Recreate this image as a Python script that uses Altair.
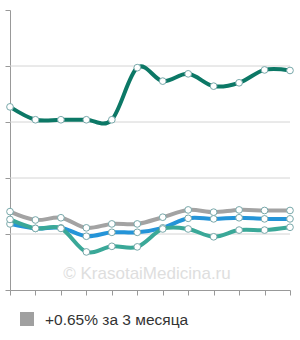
import altair as alt
import pandas as pd

idx = list(range(12))
gray = [1.40, 1.25, 1.29, 1.11, 1.18, 1.18, 1.30, 1.43, 1.39, 1.43, 1.42, 1.42]
blue = [1.18, 1.10, 1.11, 0.96, 1.03, 1.03, 1.11, 1.28, 1.27, 1.29, 1.27, 1.27]
teal = [1.26, 1.10, 1.10, 0.68, 0.78, 0.77, 1.09, 1.09, 0.95, 1.07, 1.07, 1.12]
green = [3.27, 3.04, 3.04, 3.04, 3.04, 3.97, 3.73, 3.86, 3.64, 3.70, 3.93, 3.92]
grid_vals = [1, 2, 3, 4]
y_ticks = [0, 1, 2, 3, 4, 5]
legend_label = "+0.65% за 3 месяца"
watermark = "© KrasotaiMedicina.ru"

series = [("gray", gray, "#a3a3a3"), ("blue", blue, "#2494d8"),
          ("teal", teal, "#3aa898"), ("green", green, "#0c7866")]

xs = alt.Scale(domain=[0, 11], nice=False)
ys = alt.Scale(domain=[0, 5], nice=False)
x_axis = alt.Axis(values=idx, labels=False, title=None, grid=False, tickSize=5,
                  tickColor="#999", domainColor="#999")
y_axis = alt.Axis(values=y_ticks, labels=False, title=None, grid=False, tickSize=5,
                  tickColor="#999", domainColor="#999")


def X(f):
    return alt.X(f, scale=xs, axis=x_axis)


def Y(f):
    return alt.Y(f, scale=ys, axis=y_axis)


base_axes = alt.Chart(pd.DataFrame({"i": idx, "v": gray})).mark_point(opacity=0).encode(
    x=X("i:Q"), y=Y("v:Q"))

grid = alt.Chart(pd.DataFrame({"v": grid_vals})).mark_rule(
    color="#d4d4d4", strokeWidth=1).encode(y=Y("v:Q"))

wm = alt.Chart(pd.DataFrame({"t": [watermark]})).mark_text(
    fontSize=17, color="#dedede", font="Liberation Sans", align="center", baseline="middle").encode(
    text="t:N", x=alt.value(137), y=alt.value(264))

layers = [base_axes, grid, wm]
for name, vals, col in series:
    df = pd.DataFrame({"i": idx, "v": vals})
    line = alt.Chart(df).mark_line(color=col, strokeWidth=4, interpolate="cardinal").encode(
        x=X("i:Q"), y=Y("v:Q"))
    pts = alt.Chart(df).mark_circle(size=45, color="white", opacity=1, stroke="#78a8aa",
                                    strokeWidth=1).encode(x=X("i:Q"), y=Y("v:Q"))
    layers += [line, pts]

leg_sq = alt.Chart(pd.DataFrame({"t": [legend_label]})).mark_square(
    size=196, color="#a0a0a0", opacity=1, cornerRadius=2).encode(x=alt.value(17), y=alt.value(309))
leg_txt = alt.Chart(pd.DataFrame({"t": [legend_label]})).mark_text(
    fontSize=15.5, color="#333333", font="Liberation Sans", align="left", baseline="middle").encode(
    text="t:N", x=alt.value(35), y=alt.value(310))
layers += [leg_sq, leg_txt]

chart = alt.layer(*layers).properties(
    width=280, height=280,
    padding={"left": 10, "top": 10, "right": 10, "bottom": 50},
    autosize=alt.AutoSizeParams(type="none"),
).configure_view(stroke=None)

chart.save("out.html", embed_options={"renderer": "svg", "actions": False})
